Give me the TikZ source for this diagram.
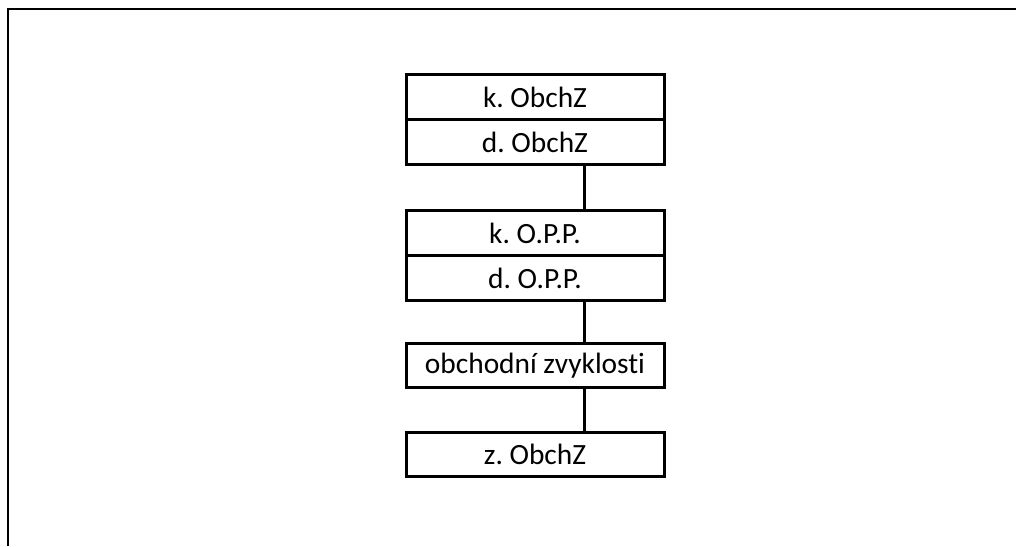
\documentclass[tikz,border=0pt]{standalone}
\usepackage{fontspec}
\setmainfont{Carlito}[Ligatures=NoCommon]
\frenchspacing
\usetikzlibrary{positioning}
\tikzset{
  levelbox/.style={rectangle,draw,line width=1.5pt,minimum width=129pt,minimum height=22.5pt,inner sep=0pt,font=\fontsize{14.7}{16}\selectfont},
  link/.style={black,line width=1.5pt}
}

\begin{document}
\begin{tikzpicture}[line cap=butt,line join=miter,x=0.5pt,y=-0.5pt]
    \useasboundingbox (0,0) rectangle (1016,546);
    % frame
    \draw[line width=1pt] (8,546) -- (8,9) -- (1016,9);

    \draw(535,97) node[levelbox] (kobchz) {k. ObchZ};
    \node[levelbox,below=-1.5pt of kobchz] (dobchz) {d. ObchZ};
    \node[levelbox,below=21.5pt of dobchz] (kopp) {k. O.P.P.};
    \node[levelbox,below=-1.5pt of kopp] (dopp) {d. O.P.P.};
    \node[levelbox,minimum height=22pt,below=20pt of dopp] (zvyk) {obchodní zvyklosti};
    \node[levelbox,minimum height=22pt,below=21pt of zvyk] (zobchz) {z. ObchZ};

    % Edges
    \foreach \source/\target in {dobchz/kopp, dopp/zvyk, zvyk/zobchz} {
            \draw[link] ([xshift=24.5pt]\source.south) -- ([xshift=24.5pt]\target.north);
        }
\end{tikzpicture}
\end{document}
